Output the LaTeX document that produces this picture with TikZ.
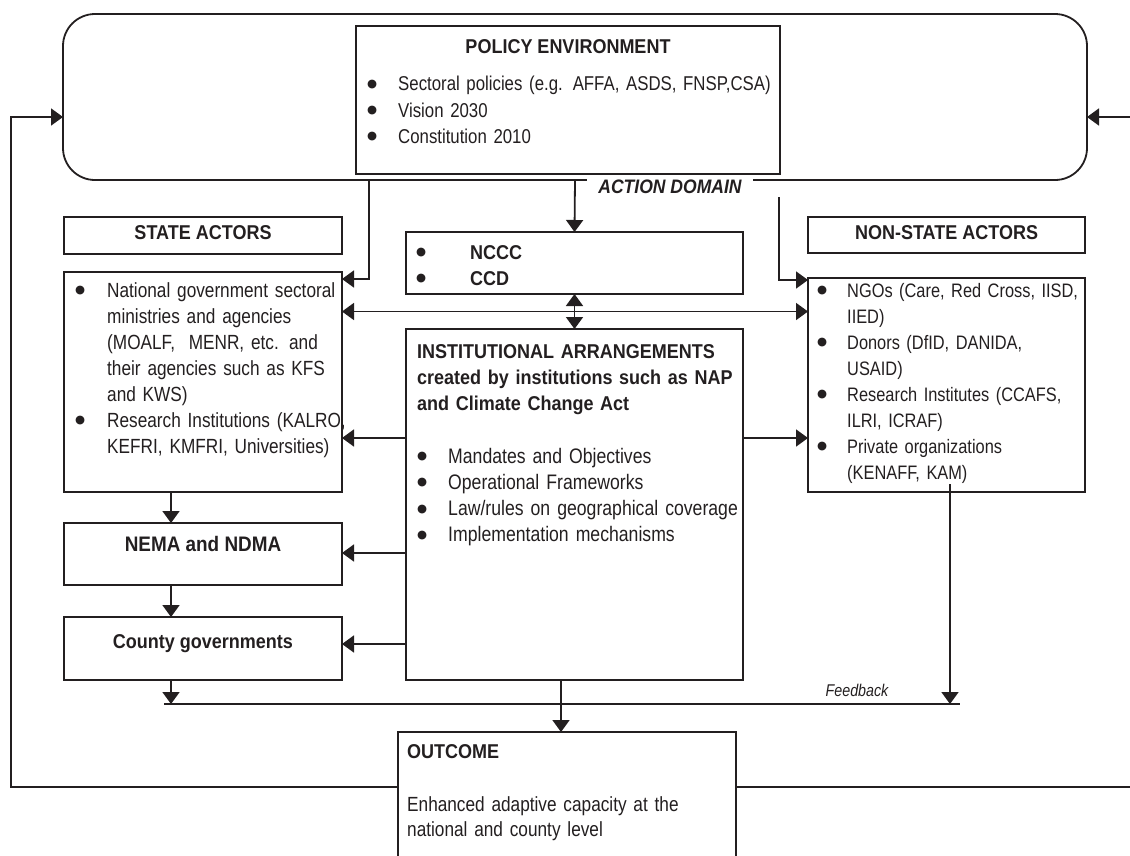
\documentclass[tikz,border=0pt]{standalone}
\usepackage{fontspec}
\setmainfont{Liberation Sans}[FakeStretch=0.84]
\newfontfamily\hb{Liberation Sans}[FakeStretch=0.9]
\newfontfamily\bulf{DejaVu Sans}
\newcommand{\bul}{\raisebox{3.5pt}{\bulf\fontsize{11.5}{11.5}\selectfont ●}}
\usetikzlibrary{arrows.meta,calc}
\definecolor{ink}{HTML}{231F20}
\begin{document}
\begin{tikzpicture}[x=1pt,y=-1pt,
  box/.style={draw=ink, line width=2.2pt, anchor=north west, outer sep=0pt, inner sep=0pt},
  arr/.style={draw=ink, line width=1.8pt, -{Triangle[length=12pt,width=17pt]}},
  arrtwo/.style={draw=ink, line width=1.8pt, {Triangle[length=12pt,width=17pt]}-{Triangle[length=12pt,width=17pt]}},
  plain/.style={draw=ink, line width=1.8pt},
  txt/.style={anchor=base west, inner sep=0pt, text width=420pt, align=left, text=ink},
  ctr/.style={anchor=base, inner sep=0pt, text=ink}]
\useasboundingbox (0,0) rectangle (1130,855);
\clip (0,0) rectangle (1130,855);

% action domain (rounded frame)
\node[box, line width=1.8pt, rounded corners=32pt, minimum width=1024pt, minimum height=166pt] (domain) at (63,14) {};
\node[ctr, fill=white, inner xsep=11pt, inner ysep=2pt, font=\hb\bfseries\itshape\fontsize{19.5}{24}\selectfont] (adt) at (670,193) {ACTION DOMAIN};

% boxes
\node[box, minimum width=424pt, minimum height=148pt, fill=white] (policy) at (356,26) {};
\node[box, minimum width=278pt, minimum height=37pt] (sht) at (64,217) {};
\node[box, minimum width=277pt, minimum height=36pt] (nsht) at (808,217) {};
\node[box, minimum width=278pt, minimum height=220pt] (state) at (64,272) {};
\node[box, minimum width=277pt, minimum height=214pt] (nonstate) at (808,278) {};
\node[box, minimum width=337pt, minimum height=62pt] (nccc) at (406,232) {};
\node[box, minimum width=337pt, minimum height=351pt] (inst) at (406,329) {};
\node[box, minimum width=278pt, minimum height=62pt] (nema) at (64,523) {};
\node[box, minimum width=278pt, minimum height=63pt] (county) at (64,617) {};
\node[box, minimum width=338pt, minimum height=150pt] (outcome) at (398,732) {};

% texts
\node[ctr, font=\hb\bfseries\fontsize{20}{26}\selectfont] (ptitle) at (568,53.3) {POLICY ENVIRONMENT};
\node[txt, font=\fontsize{20}{26.3}\selectfont] (plist) at (367,90.7) {%
\makebox[31pt][l]{\bul}Sectoral policies (e.g. AFFA, ASDS, FNSP,CSA)\\
\makebox[31pt][l]{\bul}Vision 2030\\
\makebox[31pt][l]{\bul}Constitution 2010};

\node[ctr, font=\hb\bfseries\fontsize{20}{26}\selectfont] (shtt) at (203,239.3) {STATE ACTORS};
\node[ctr, font=\hb\bfseries\fontsize{20}{26}\selectfont] (nshtt) at (946.5,239.3) {NON-STATE ACTORS};

\node[txt, font=\fontsize{20.5}{26}\selectfont] (slist) at (75,297.3) {%
\makebox[32pt][l]{\bul}National government sectoral\\
\hspace*{32pt}ministries and agencies\\
\hspace*{32pt}(MOALF, \ MENR, etc. and\\
\hspace*{32pt}their agencies such as KFS\\
\hspace*{32pt}and KWS)\\
\makebox[32pt][l]{\bul}Research Institutions (KALRO,\\
\hspace*{32pt}KEFRI, KMFRI, Universities)};

\node[txt, font=\hb\bfseries\fontsize{20}{26}\selectfont] (nlist) at (416,259.3) {%
\makebox[54pt][l]{\bul}NCCC\\
\makebox[54pt][l]{\bul}CCD};

\node[txt, font=\hb\bfseries\fontsize{20}{26}\selectfont] (ibold) at (417,358.3) {%
INSTITUTIONAL ARRANGEMENTS\\
created by institutions such as NAP\\
and Climate Change Act};

\node[txt, font=\fontsize{21}{26.1}\selectfont] (ilist) at (417,463.3) {%
\makebox[31pt][l]{\bul}Mandates and Objectives\\
\makebox[31pt][l]{\bul}Operational Frameworks\\
\makebox[31pt][l]{\bul}Law/rules on geographical coverage\\
\makebox[31pt][l]{\bul}Implementation mechanisms};

\node[txt, font=\fontsize{19.5}{26}\selectfont] (nslist) at (817,297.3) {%
\makebox[30pt][l]{\bul}NGOs (Care, Red Cross, IISD,\\
\hspace*{30pt}IIED)\\
\makebox[30pt][l]{\bul}Donors (DfID, DANIDA,\\
\hspace*{30pt}USAID)\\
\makebox[30pt][l]{\bul}Research Institutes (CCAFS,\\
\hspace*{30pt}ILRI, ICRAF)\\
\makebox[30pt][l]{\bul}Private organizations\\
\hspace*{30pt}(KENAFF, KAM)};

\node[ctr, font=\hb\bfseries\fontsize{21}{26}\selectfont] (nemat) at (203,551.7) {NEMA and NDMA};
\node[ctr, font=\hb\bfseries\fontsize{20}{26}\selectfont] (countyt) at (203,648.3) {County governments};

\node[txt, font=\hb\bfseries\fontsize{20}{26}\selectfont] (outt) at (407,758) {OUTCOME};
\node[txt, font=\fontsize{20.5}{25}\selectfont] (outb) at (407,811.7) {%
Enhanced adaptive capacity at the\\
national and county level};

\node[ctr, font=\itshape\fontsize{17}{20}\selectfont] (fbt) at (857,696) {Feedback};

% connectors
\coordinate (rs) at (779,197);
\coordinate (fbL) at (164,704);
\coordinate (fbR) at (960,704);
\coordinate (redgeA) at (1135,787);
\coordinate (redgeB) at (1135,117);
\coordinate (mid) at ($(nccc.south)!0.5!(inst.north)$);

\draw[arr] (domain.south) -- (nccc.north);
\draw[arr] (domain.south -| 369,0) |- ([yshift=-7pt]state.north east);
\draw[arr] (rs) |- ([yshift=-2pt]nonstate.north west);
\draw[arrtwo] (state.east |- mid) -- (nonstate.west |- mid);
\draw[arrtwo] (nccc.south) -- (inst.north);
\draw[arr] (inst.west |- 0,438) -- (state.east |- 0,438);
\draw[arr] (inst.east |- 0,438) -- (nonstate.west |- 0,438);
\draw[arr] (inst.west |- 0,553) -- (nema.east |- 0,553);
\draw[arr] (inst.west |- 0,644) -- (county.east |- 0,644);
\draw[arr] ([xshift=107pt]state.south west) -- ([xshift=107pt]nema.north west);
\draw[arr] ([xshift=107pt]nema.south west) -- ([xshift=107pt]county.north west);
\draw[arr] ([xshift=107pt]county.south west) -- ([xshift=107pt]county.south west |- fbL);
\draw[plain] (fbL) -- (fbR);
\draw[arr] ([xshift=142pt,yshift=8pt]nonstate.south west) -- ([xshift=142pt]nonstate.south west |- fbL);
\draw[arr] ([xshift=155pt]inst.south west) -- ([xshift=155pt]inst.south west |- outcome.north);
\draw[arr] (outcome.west |- 0,787) -| ([xshift=-52pt]domain.west |- 0,117) -- (domain.west |- 0,117);
\draw[plain] (outcome.east |- redgeA) -- (redgeA);
\draw[arr] (redgeB) -- (domain.east |- redgeB);
\end{tikzpicture}
\end{document}
